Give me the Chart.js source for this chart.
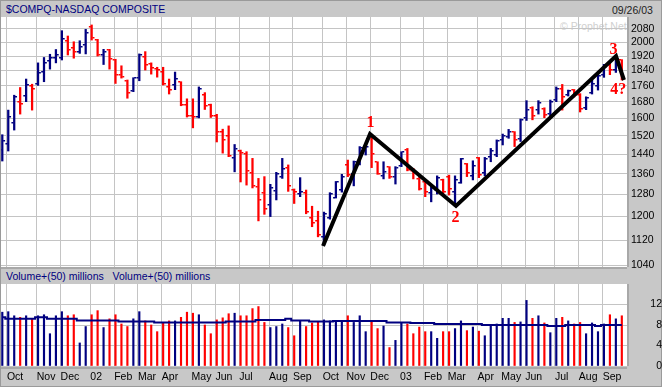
<!DOCTYPE html>
<html><head><meta charset="utf-8">
<script src="https://cdn.jsdelivr.net/npm/chart.js@4.4.0/dist/chart.umd.min.js"></script>
<style>
html,body{margin:0;padding:0;}
body{width:662px;height:387px;position:relative;overflow:hidden;background:#c8c8c8;font-family:"Liberation Sans",Arial,sans-serif;}
.a{position:absolute;}
#frame{left:0;top:0;width:660px;height:385px;border:1px solid #9a9a9a;}
#title{left:6px;top:3px;font-size:10.5px;line-height:12px;color:#000080;white-space:nowrap;}
#date{left:612px;top:4px;font-size:10.5px;line-height:12px;color:#222;}
#p1{left:1px;top:17px;width:626px;height:250px;background:#fff;}
#b1{left:1px;top:267px;width:626px;height:2px;background:#a8a8a8;}
#vt{left:6px;top:270px;font-size:10.5px;line-height:12px;color:#000080;white-space:pre;}
#p2{left:1px;top:284px;width:626px;height:82px;background:#fff;}
#b2{left:1px;top:366px;width:626px;height:3px;background:#a8a8a8;}
#r1{left:627px;top:17px;width:2px;height:250px;background:#a8a8a8;}
#r2{left:627px;top:284px;width:2px;height:82px;background:#a8a8a8;}
#wm{left:560px;top:20px;font-size:10.5px;line-height:12px;color:#d0d0d0;}
canvas{position:absolute;}
</style></head>
<body>
<div class="a" id="frame"></div>
<div class="a" id="title">$COMPQ-NASDAQ COMPOSITE</div>
<div class="a" id="date">09/26/03</div>
<div class="a" id="p1"></div>
<div class="a" id="wm">© Prophet.Net</div>
<div class="a" id="b1"></div>
<div class="a" id="vt">Volume+(50) millions   Volume+(50) millions</div>
<div class="a" id="p2"></div>
<div class="a" id="b2"></div>
<div class="a" id="r1"></div>
<div class="a" id="r2"></div>
<canvas id="c1" width="661" height="282" style="left:1px;top:0;width:661px;height:282px"></canvas>
<canvas id="c2" width="661" height="107" style="left:1px;top:280px;width:661px;height:107px"></canvas>
<script>
// Weekly bars, week ending Sep 28 2001 ... Sep 26 2003 (index 0..104)
const opens = [1458,1486,1580,1680,1707,1760,1770,1830,1890,1908,1908,2008,1968,1942,1983,2089,2012,1925,1954,1897,
1816,1786,1733,1799,1915,1876,1850,1830,1755,1764,1778,1666,1609,1606,1713,1666,1611,1538,1520,1425,
1454,1440,1362,1309,1284,1241,1293,1349,1382,1297,1282,1284,1196,1185,1132,1194,1269,1297,1396,1358,
1410,1465,1516,1407,1352,1387,1349,1393,1458,1372,1340,1328,1286,1297,1336,1349,1291,1325,1399,1352,
1423,1363,1427,1437,1502,1516,1535,1505,1600,1650,1638,1645,1620,1688,1744,1713,1738,1713,1650,1723,
1759,1816,1871,1843,1897];
const highs = [1525,1639,1712,1751,1795,1768,1882,1912,1930,1957,2068,2036,2002,2008,2076,2103,2016,1958,1958,1902,
1866,1790,1802,1932,1945,1882,1858,1858,1795,1832,1781,1694,1694,1754,1725,1668,1619,1550,1565,1482,
1458,1451,1423,1342,1349,1319,1366,1423,1396,1301,1345,1297,1237,1219,1216,1287,1330,1358,1416,1412,
1473,1482,1524,1409,1409,1389,1389,1451,1465,1382,1349,1330,1310,1352,1339,1355,1352,1423,1402,1413,
1427,1427,1465,1502,1528,1549,1539,1597,1685,1655,1685,1650,1688,1754,1767,1738,1741,1720,1704,1790,
1830,1874,1882,1915,1900];
const lows = [1412,1454,1546,1620,1680,1639,1762,1781,1848,1882,1898,1926,1908,1935,1932,2012,1920,1873,1848,1772,
1800,1697,1730,1786,1843,1821,1805,1764,1718,1740,1660,1606,1556,1602,1642,1604,1493,1445,1430,1368,
1328,1316,1305,1185,1208,1200,1260,1342,1292,1247,1272,1210,1165,1131,1104,1191,1267,1289,1349,1313,
1396,1437,1385,1358,1340,1342,1320,1389,1372,1340,1297,1272,1253,1282,1282,1278,1237,1323,1349,1336,
1345,1352,1409,1430,1480,1509,1473,1495,1590,1593,1620,1603,1611,1680,1639,1708,1703,1630,1641,1718,
1738,1804,1818,1830,1790];
const closes = [1498,1604,1702,1667,1764,1742,1825,1880,1908,1926,2016,1954,1942,1970,2056,2022,1925,1943,1902,1816,
1804,1725,1799,1925,1870,1852,1843,1769,1738,1795,1664,1609,1606,1742,1659,1611,1536,1502,1434,1462,
1444,1371,1313,1260,1226,1306,1358,1379,1313,1291,1290,1216,1178,1137,1210,1283,1328,1349,1355,1410,
1465,1473,1440,1360,1368,1346,1385,1448,1375,1363,1301,1290,1306,1345,1291,1300,1336,1419,1365,1390,
1355,1420,1455,1499,1520,1538,1502,1592,1640,1611,1672,1616,1678,1744,1703,1733,1713,1644,1698,1769,
1811,1860,1843,1904,1795];
const volumes = [10.5,10.6,9.8,9.5,9.8,9.2,9.8,10.0,6.3,9.8,10.6,9.8,10.0,4.5,7.7,10.0,10.8,7.5,9.2,10.0,
8.2,7.7,9.2,10.6,8.8,8.0,6.7,8.5,8.8,8.8,9.5,10.5,10.3,10.0,8.0,6.3,9.0,9.4,10.2,10.3,
9.8,9.8,11.2,11.6,8.5,7.5,7.7,8.2,7.5,5.9,8.8,7.7,8.4,8.6,9.0,8.8,8.8,8.8,9.8,8.5,
9.8,6.7,8.6,7.3,7.8,3.6,5.0,8.5,8.2,6.3,7.6,6.7,6.7,5.4,6.7,6.7,7.3,8.8,6.9,7.6,
6.8,5.9,8.0,8.2,9.3,9.3,8.5,8.6,12.8,9.3,9.8,8.4,6.5,9.3,9.5,8.8,8.2,8.5,6.3,8.4,
6.7,8.2,10.0,9.2,9.8];
const volumeAvg = [9.5,9.2,9.2,9.2,9.2,9.2,9.5,9.5,9.2,9.2,9.2,9.2,9.2,8.9,8.9,8.9,8.9,8.9,8.9,8.9,
8.7,8.7,8.7,8.7,8.7,8.7,8.5,8.5,8.5,8.5,8.5,8.5,8.5,8.5,8.5,8.5,8.5,8.5,8.7,8.7,
8.7,8.7,8.7,9.0,9.0,9.0,9.0,9.0,9.2,8.9,8.9,8.9,8.7,8.7,8.7,8.7,8.8,8.8,8.8,8.8,
8.8,8.8,8.8,8.8,8.8,8.5,8.5,8.5,8.5,8.4,8.4,8.4,8.4,8.2,8.2,8.2,8.2,8.2,8.2,8.2,
8.2,8.0,8.0,8.0,8.0,8.0,8.0,8.0,8.0,8.0,8.0,8.0,7.8,7.8,7.8,8.0,8.0,8.0,8.0,8.0,
7.8,8.0,8.0,8.0,8.0];
// month starts (bar index of first full week) and labels
const monthStarts = [1,6,10,15,19,23,27,32,36,40,45,49,54,58,62,67,71,75,80,84,88,93,97,101];
const monthLabels = ["Oct","Nov","Dec","02","Feb","Mar","Apr","May","Jun","Jul","Aug","Sep",
                     "Oct","Nov","Dec","03","Feb","Mar","Apr","May","Jun","Jul","Aug","Sep"];
const priceTicks = [1040,1120,1200,1280,1360,1440,1520,1600,1680,1760,1840,1920,2000,2080];
const volumeTicks = [0,4,8,12];
// Elliott wave annotation
const waveX = [53.84,61.73,76.16,103.02,104.36];
const waveY = [1101,1528,1238,1920,1790];
const waveLabels = ["1","2","3","4?"];
const waveLabelX = [61.8,76.1,102.6,103.4];
const waveLabelY = [1580,1197,1954,1740];

const UP = '#000080', DOWN = '#ff0000', GRID = '#c4c4c4';
const FONT = {family:'"Liberation Sans", Arial, sans-serif', size:10.5};
const colorOf = i => closes[i] >= opens[i] ? UP : DOWN;
const barColors = closes.map((c,i)=>colorOf(i));
const X_MIN = -0.218, X_MAX = 104.87;
const gridTicks = s => { s.ticks = monthStarts.map(m => ({value: m - 0.22})); };

const ohlcTicks = {
  id:'ohlcTicks',
  beforeDatasetsDraw(chart){
    const {ctx, scales:{x,y}} = chart;
    ctx.save();
    for (let i=0;i<opens.length;i++){
      const px = x.getPixelForValue(i);
      ctx.fillStyle = barColors[i];
      ctx.fillRect(px-2.8, Math.round(y.getPixelForValue(opens[i]))-1, 2, 1.5);
      ctx.fillRect(px+0.8, Math.round(y.getPixelForValue(closes[i]))-1, 2, 1.5);
    }
    ctx.restore();
  }
};
const waveText = {
  id:'waveText',
  afterDatasetsDraw(chart){
    const {ctx, scales:{x,y}} = chart;
    ctx.save();
    ctx.font = 'bold 16px "Liberation Serif", "Times New Roman", serif';
    ctx.fillStyle = '#ff0000';
    ctx.textAlign = 'center';
    ctx.textBaseline = 'middle';
    waveLabels.forEach((t,i)=>ctx.fillText(t, x.getPixelForValue(waveLabelX[i]), y.getPixelForValue(waveLabelY[i])));
    ctx.restore();
  }
};

new Chart(document.getElementById('c1'), {
  data:{datasets:[
    {type:'line', data: waveX.map((v,i)=>({x:v, y:waveY[i]})), borderColor:'#000', borderWidth:4,
     pointRadius:0, tension:0, borderJoinStyle:'miter', order:0},
    {type:'bar', data: highs.map((h,i)=>({x:i, y:[lows[i], h]})), backgroundColor: barColors,
     barThickness:1.6, borderWidth:0, order:1}
  ]},
  options:{
    responsive:false, animation:false, devicePixelRatio:1,
    layout:{padding:{top:17,bottom:15,left:0,right:0}},
    plugins:{legend:{display:false}, tooltip:{enabled:false}},
    scales:{
      x:{type:'linear', min:X_MIN, max:X_MAX, offset:false, afterBuildTicks:gridTicks,
         ticks:{display:false}, grid:{color:GRID, drawTicks:false, offset:false}, border:{display:false},
         afterFit:s=>{s.height=0; s.paddingLeft=0; s.paddingRight=0;}},
      y:{type:'logarithmic', position:'right', min:1035.4, max:2152.5,
         afterBuildTicks:s=>{s.ticks = priceTicks.map(v=>({value:v}));},
         ticks:{callback:v=>String(v), font:FONT, color:'#000', padding:4, autoSkip:false},
         grid:{color:GRID, drawTicks:false}, border:{display:false},
         afterFit:s=>{s.width=35; s.paddingTop=0; s.paddingBottom=0;}}
    }
  },
  plugins:[ohlcTicks, waveText]
});

new Chart(document.getElementById('c2'), {
  data:{datasets:[
    {type:'line', data: volumeAvg.map((v,i)=>({x:i, y:v})), borderColor:UP, borderWidth:2,
     pointRadius:0, stepped:'middle', order:0},
    {type:'bar', data: volumes.map((v,i)=>({x:i, y:v})), backgroundColor: barColors,
     barThickness:1.5, borderWidth:0, order:1}
  ]},
  options:{
    responsive:false, animation:false, devicePixelRatio:1,
    layout:{padding:{top:4,bottom:0,left:0,right:0}},
    plugins:{legend:{display:false}, tooltip:{enabled:false}},
    scales:{
      x:{type:'linear', min:X_MIN, max:X_MAX, offset:false, afterBuildTicks:gridTicks,
         ticks:{align:'start', callback:(v,i)=>monthLabels[i], font:FONT, color:'#000', padding:5,
                maxRotation:0, autoSkip:false},
         grid:{color:GRID, drawTicks:false, offset:false}, border:{display:false},
         afterFit:s=>{s.height=21; s.paddingLeft=0; s.paddingRight=0;}},
      y:{position:'right', min:0, max:16,
         afterBuildTicks:s=>{s.ticks = volumeTicks.map(v=>({value:v}));},
         ticks:{font:FONT, color:'#000', crossAlign:'far', padding:16, autoSkip:false},
         grid:{color:GRID, drawTicks:false}, border:{display:false},
         afterFit:s=>{s.width=35; s.paddingTop=0; s.paddingBottom=0;}}
    }
  }
});
</script>
</body></html>
